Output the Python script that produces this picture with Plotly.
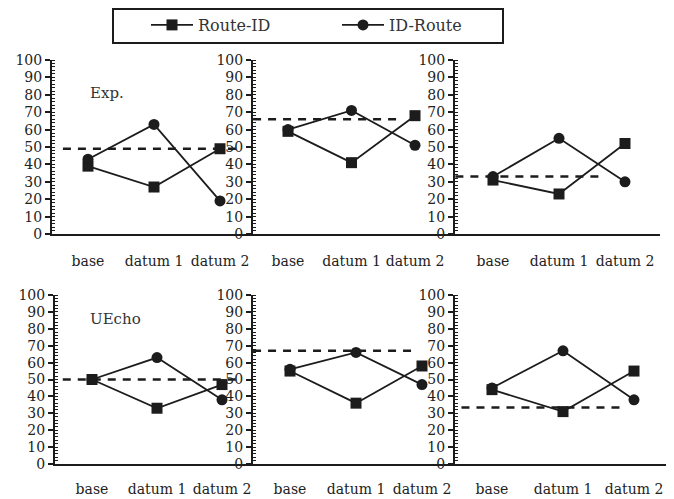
import plotly.graph_objects as go

W, H = 674, 499
OFF = 8                     # page body margin offsets the figure
FW, FH = W - OFF, H - OFF   # figure size so it fits the window

categories = ["base", "datum 1", "datum 2"]
x_pos = [0, 1, 2]
y_ticks = list(range(0, 101, 10))

# rows: Exp. (top), UEcho (bottom); each row has 3 panels
route_id_exp = [[39, 27, 49], [59, 41, 68], [31, 23, 52]]
id_route_exp = [[43, 63, 19], [60, 71, 51], [33, 55, 30]]
route_id_uecho = [[50, 33, 47], [55, 36, 58], [44, 31, 55]]
id_route_uecho = [[50, 63, 38], [56, 66, 47], [45, 67, 38]]
ref_exp = [49, 66, 33]
ref_uecho = [50, 67, 33.5]
ref_span_exp = [[-0.38, 2.3], [-0.55, 1.75], [-0.57, 1.62]]
ref_span_uecho = [[-0.45, 2.25], [-0.56, 1.94], [-0.43, 1.8]]
row_labels = ["Exp.", "UEcho"]


def px_x(p):
    return (p - OFF) / FW


def px_y(p):
    return 1 - (p - OFF) / FH


# layout geometry in pixels: (axis_x, base_x, datum2_x, right_end)
geo = [
    [(52, 88, 220, 253), (253, 288, 415, 455), (455, 493, 625, 660)],
    [(55, 92, 222, 253), (253, 290, 422, 455), (455, 492, 634, 667)],
]
ydom = [(px_y(234), px_y(60)), (px_y(464), px_y(295))]
xlab_len = [13, 11]

SERIF = "DejaVu Serif"
INK = "#1c1c1c"

fig = go.Figure()
layout = {}
rows = [
    (route_id_exp, id_route_exp, ref_exp, ref_span_exp),
    (route_id_uecho, id_route_uecho, ref_uecho, ref_span_uecho),
]
k = 0
for r, (sq, ci, ref, span) in enumerate(rows):
    for p in range(3):
        k += 1
        xs = "x" if k == 1 else f"x{k}"
        ys = "y" if k == 1 else f"y{k}"
        x0, b, d2, xe = geo[r][p]
        s = (d2 - b) / 2
        xr = [(x0 - b) / s, (xe - b) / s]
        layout["xaxis" if k == 1 else f"xaxis{k}"] = dict(
            domain=[px_x(x0), px_x(xe)], range=xr, anchor=ys,
            tickvals=x_pos, ticktext=categories, tickangle=0,
            showline=True, linecolor=INK, linewidth=2,
            ticks="outside", ticklen=xlab_len[r], tickcolor="rgba(0,0,0,0)",
            showgrid=False, zeroline=False, automargin=False,
            tickfont=dict(family=SERIF, size=14, color="#222"),
        )
        layout["yaxis" if k == 1 else f"yaxis{k}"] = dict(
            domain=list(ydom[r]), range=[0, 100], anchor=xs,
            tickvals=y_ticks, showline=True, linecolor=INK, linewidth=2,
            ticks="outside", ticklen=5, tickwidth=1.5, tickcolor=INK,
            minor=dict(dtick=2, ticks="inside", ticklen=3, tickwidth=1, tickcolor=INK),
            showgrid=False, zeroline=False, automargin=False,
            tickfont=dict(family=SERIF, size=14, color="#222"),
        )
        # dashed reference line
        fig.add_trace(go.Scatter(
            x=span[p], y=[ref[p], ref[p]], xaxis=xs, yaxis=ys, mode="lines",
            line=dict(color=INK, width=2.5, dash="8px,7px"),
            showlegend=False, hoverinfo="skip"))
        fig.add_trace(go.Scatter(
            x=x_pos, y=sq[p], xaxis=xs, yaxis=ys, mode="lines+markers",
            name="Route-ID", showlegend=(k == 1),
            line=dict(color=INK, width=1.8),
            marker=dict(symbol="square", size=11, color=INK)))
        fig.add_trace(go.Scatter(
            x=x_pos, y=ci[p], xaxis=xs, yaxis=ys, mode="lines+markers",
            name="ID-Route", showlegend=(k == 1),
            line=dict(color=INK, width=1.8),
            marker=dict(symbol="circle", size=11, color=INK)))
    # row label
    layout.setdefault("annotations", []).append(dict(
        text=row_labels[r], xref="x" if r == 0 else "x4", yref="y" if r == 0 else "y4",
        x=0 if r == 0 else -0.06, y=81 if r == 0 else 86, xanchor="left", yanchor="middle",
        showarrow=False, font=dict(family=SERIF, size=15, color="#333")))

fig.update_layout(**layout)
fig.update_layout(
    width=FW, height=FH, margin=dict(l=0, r=0, t=0, b=0, autoexpand=False),
    plot_bgcolor="white", paper_bgcolor="white",
    legend=dict(orientation="h", x=px_x(146), y=px_y(25), xanchor="left", yanchor="middle",
                bgcolor="rgba(0,0,0,0)", borderwidth=0, entrywidth=134, itemwidth=42,
                font=dict(family=SERIF, size=16, color="#333")),
    shapes=[dict(type="rect", xref="paper", yref="paper",
                 x0=px_x(113), x1=px_x(503), y0=px_y(43), y1=px_y(9),
                 line=dict(color=INK, width=2))],
)
fig.write_html("out.html")
